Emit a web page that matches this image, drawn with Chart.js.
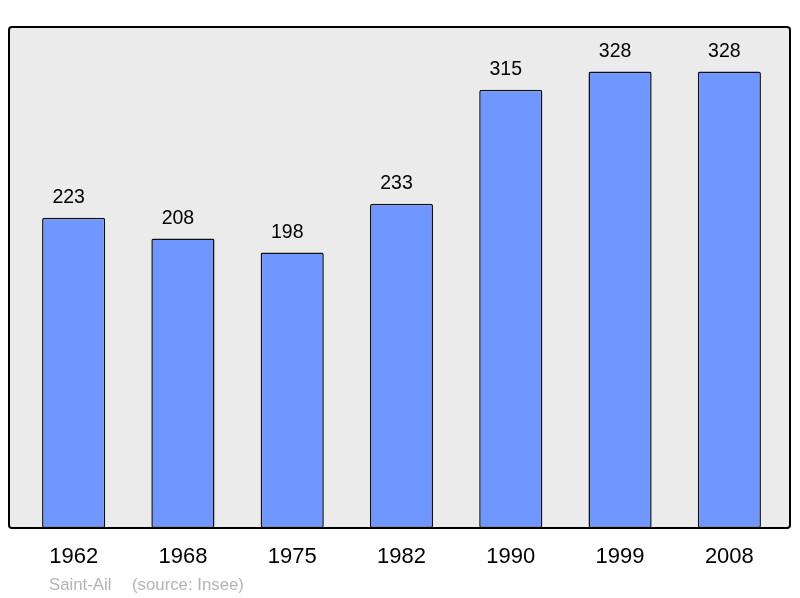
<!DOCTYPE html>
<html>
<head>
<meta charset="utf-8">
<script src="https://cdn.jsdelivr.net/npm/chart.js@4/dist/chart.umd.min.js"></script>
<style>
  body { margin: 0; background: #fff; }
  canvas { display: block; }
</style>
</head>
<body>
<canvas id="popChart" width="800" height="598"></canvas>
<script>
const years = ['1962', '1968', '1975', '1982', '1990', '1999', '2008'];
const population = [223, 208, 198, 233, 315, 328, 328];
const placeName = 'Saint-Ail';
const sourceText = '(source: Insee)';

const frameBox = { left: 9, top: 27, right: 790, bottom: 528 };
const fontFamily = '"Liberation Sans", Arial, sans-serif';

function roundRect(ctx, x, y, w, h, r) {
    ctx.beginPath();
    ctx.moveTo(x + r, y);
    ctx.lineTo(x + w - r, y);
    ctx.quadraticCurveTo(x + w, y, x + w, y + r);
    ctx.lineTo(x + w, y + h - r);
    ctx.quadraticCurveTo(x + w, y + h, x + w - r, y + h);
    ctx.lineTo(x + r, y + h);
    ctx.quadraticCurveTo(x, y + h, x, y + h - r);
    ctx.lineTo(x, y + r);
    ctx.quadraticCurveTo(x, y, x + r, y);
    ctx.closePath();
}

const framePlugin = {
    id: 'frame',
    beforeDatasetsDraw(chart) {
        const ctx = chart.ctx;
        const b = frameBox;
        ctx.save();
        roundRect(ctx, b.left, b.top, b.right - b.left, b.bottom - b.top, 3);
        ctx.fillStyle = '#ebebeb';
        ctx.fill();
        ctx.restore();
    },
    afterDatasetsDraw(chart) {
        const ctx = chart.ctx;
        const b = frameBox;
        ctx.save();
        roundRect(ctx, b.left, b.top, b.right - b.left, b.bottom - b.top, 3);
        ctx.strokeStyle = '#000';
        ctx.lineWidth = 2;
        ctx.stroke();

        // values above bars
        const meta = chart.getDatasetMeta(0);
        ctx.fillStyle = '#000';
        ctx.font = '19.5px ' + fontFamily;
        ctx.textAlign = 'center';
        ctx.textBaseline = 'middle';
        meta.data.forEach((bar, i) => {
            ctx.fillText(population[i], bar.x - 5, bar.y - 20);
        });

        // footer
        ctx.fillStyle = '#b4b4b4';
        ctx.font = '16.8px ' + fontFamily;
        ctx.textAlign = 'left';
        ctx.fillText(placeName, 49, 585);
        ctx.fillText(sourceText, 132, 585);
        ctx.restore();
    }
};

const ctx = document.getElementById('popChart').getContext('2d');
new Chart(ctx, {
    type: 'bar',
    data: {
        labels: years,
        datasets: [{
            data: population,
            backgroundColor: '#7097ff',
            borderColor: '#111',
            borderWidth: 1.5,
            borderRadius: 2,
            borderSkipped: false,
            barPercentage: 0.578,
            categoryPercentage: 1
        }]
    },
    options: {
        responsive: false,
        animation: false,
        layout: {
            padding: { left: 19, right: 16, top: 27, bottom: 0 }
        },
        plugins: {
            legend: { display: false },
            tooltip: { enabled: false }
        },
        scales: {
            x: {
                grid: { display: false, drawTicks: false },
                border: { display: false },
                ticks: {
                    color: '#000',
                    padding: 16,
                    font: { size: 22, family: fontFamily }
                },
                afterFit(scale) { scale.height = 70; }
            },
            y: {
                display: false,
                min: 0,
                max: 360
            }
        }
    },
    plugins: [framePlugin]
});
</script>
</body>
</html>
